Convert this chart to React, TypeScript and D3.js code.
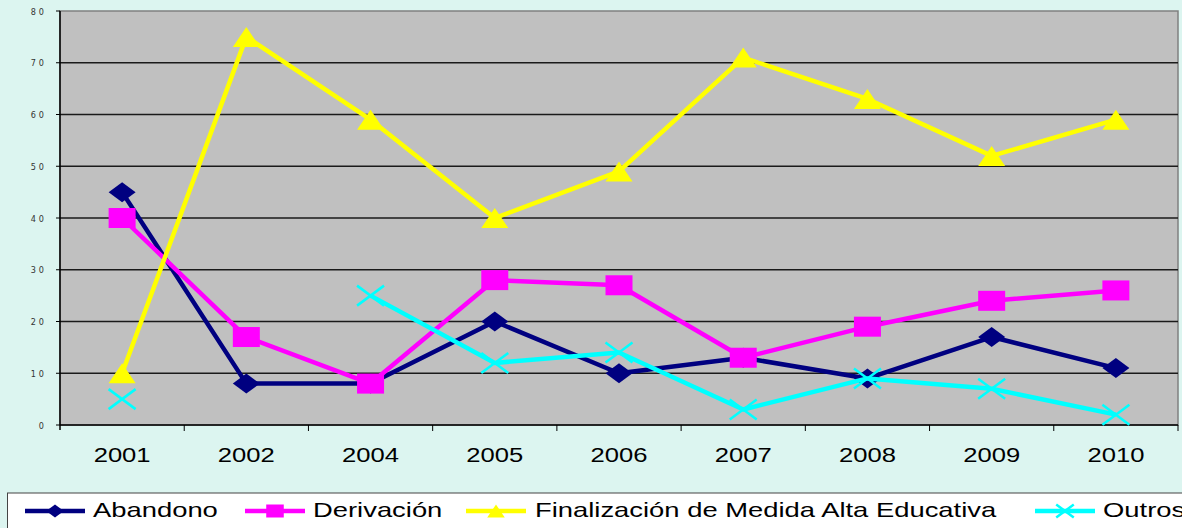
import React from "react";
import * as d3 from "d3";

const categories = ["2001", "2002", "2004", "2005", "2006", "2007", "2008", "2009", "2010"];
const abandono: (number | null)[] = [45, 8, 8, 20, 10, 13, 9, 17, 11];
const derivacion: (number | null)[] = [40, 17, 8, 28, 27, 13, 19, 24, 26];
const finalizacion: (number | null)[] = [10, 75, 59, 40, 49, 71, 63, 52, 59];
const outros: (number | null)[] = [5, null, 25, 12, 14, 3, 9, 7, 2];
const yTicks = [0, 10, 20, 30, 40, 50, 60, 70, 80];

const series = [
  { name: "Abandono", values: abandono, color: "#000080", marker: "diamond" },
  { name: "Derivación", values: derivacion, color: "#FF00FF", marker: "square" },
  { name: "Finalización de Medida Alta Educativa", values: finalizacion, color: "#FFFF00", marker: "triangle" },
  { name: "Outros", values: outros, color: "#00FFFF", marker: "x" },
];

const W = 1182, H = 528;
const L = 60, R = 1178, T = 11, B = 425;
const FONT = "'Liberation Sans', Arial, sans-serif";

function Marker({ type, x, y, color, s = 1 }: { type: string; x: number; y: number; color: string; s?: number }) {
  const hw = 13.5 * s, hh = 10 * s;
  if (type === "diamond") {
    return <path d={`M${x - hw},${y}L${x},${y - hh}L${x + hw},${y}L${x},${y + hh}Z`} fill={color} />;
  }
  if (type === "square") {
    return <rect x={x - hw} y={y - hh} width={hw * 2} height={hh * 2} fill={color} />;
  }
  if (type === "triangle") {
    return <path d={`M${x - hw},${y + hh}L${x},${y - hh}L${x + hw},${y + hh}Z`} fill={color} />;
  }
  return (
    <path d={`M${x - hw},${y - hh}L${x + hw},${y + hh}M${x - hw},${y + hh}L${x + hw},${y - hh}`} stroke={color} strokeWidth={2.5} fill="none" />
  );
}

export default function App() {
  const x = d3.scaleBand<string>().domain(categories).range([L, R]);
  const y = d3.scaleLinear().domain([0, 80]).range([B, T]);
  const cx = (c: string) => (x(c) as number) + x.bandwidth() / 2;
  const line = d3
    .line<number | null>()
    .defined((d) => d !== null)
    .x((_, i) => cx(categories[i]))
    .y((d) => y(d as number));

  const legendItems = [
    { lx: 25, tx: 93 },
    { lx: 245, tx: 313 },
    { lx: 466, tx: 535 },
    { lx: 1035, tx: 1103 },
  ];

  return (
    <svg width={W} height={H} style={{ position: "absolute", left: 0, top: 0 }}>
      <rect x={0} y={0} width={W} height={H} fill="#DCF5F0" />
      <rect x={L} y={T} width={R - L} height={B - T} fill="#C0C0C0" stroke="#808080" strokeWidth={1.5} />
      {yTicks.map((t) => (
        <g key={t}>
          {t > 0 && t < 80 && <line x1={L} x2={R} y1={y(t)} y2={y(t)} stroke="#1a1a1a" strokeWidth={1.5} />}
          <line x1={L - 4} x2={L} y1={y(t)} y2={y(t)} stroke="#000" strokeWidth={1} />
          <text
            x={47}
            y={y(t) + 3.5}
            textAnchor="end"
            fontFamily="'DejaVu Sans Condensed', 'Liberation Sans Narrow', sans-serif"
            fontSize={9}
            letterSpacing={3}
            fill="#333"
          >
            {t}
          </text>
        </g>
      ))}
      <line x1={L} x2={L} y1={T} y2={B + 5} stroke="#000" strokeWidth={1.5} />
      <line x1={L} x2={R} y1={B} y2={B} stroke="#000" strokeWidth={1.5} />
      {categories.map((c) => (
        <g key={c}>
          <line x1={(x(c) as number) + x.bandwidth()} x2={(x(c) as number) + x.bandwidth()} y1={B} y2={B + 6} stroke="#000" strokeWidth={1} />
          <text
            transform={`translate(${cx(c)},462) scale(1.28,1)`}
            textAnchor="middle"
            fontFamily={FONT}
            fontSize={20}
            fill="#000"
          >
            {c}
          </text>
        </g>
      ))}
      {series.map((s) => (
        <g key={s.name}>
          <path d={line(s.values) || ""} fill="none" stroke={s.color} strokeWidth={4.5} strokeLinejoin="round" />
          {s.values.map((v, i) =>
            v === null ? null : <Marker key={i} type={s.marker} x={cx(categories[i])} y={y(v)} color={s.color} />
          )}
        </g>
      ))}
      <rect x={7.5} y={493} width={1190} height={50} fill="#FFFFFF" stroke="#444" strokeWidth={1} />
      {series.map((s, i) => (
        <g key={s.name}>
          <line x1={legendItems[i].lx} x2={legendItems[i].lx + 60} y1={511} y2={511} stroke={s.color} strokeWidth={4.5} />
          <Marker type={s.marker} x={legendItems[i].lx + 30} y={511} color={s.color} s={0.65} />
          <text
            transform={`translate(${legendItems[i].tx},517) scale(1.37,1)`}
            fontFamily={FONT}
            fontSize={20}
            fill="#000"
          >
            {s.name}
          </text>
        </g>
      ))}
    </svg>
  );
}
